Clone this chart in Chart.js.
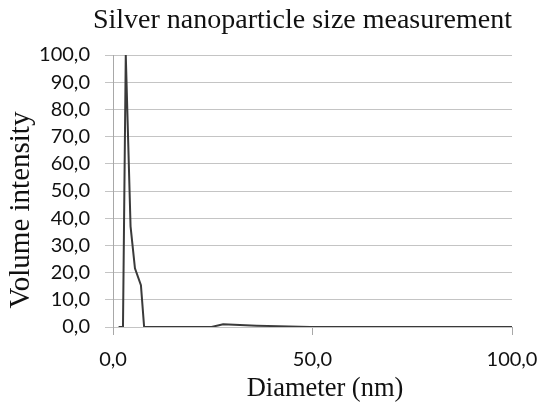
<!DOCTYPE html>
<html>
<head>
<meta charset="utf-8">
<script src="https://cdn.jsdelivr.net/npm/chart.js@4"></script>
<style>
  html, body { margin: 0; padding: 0; background: #fff; }
  #wrap { width: 540px; height: 406px; }
</style>
</head>
<body>
<div id="wrap"><canvas id="sizeChart"></canvas></div>
<script>
// diameter (nm) and volume intensity
var diameters = [1.4, 2.5, 3.2, 4.4, 5.5, 7.0, 7.8, 24.7, 27.6, 36.0, 49.4, 100];
var volumes   = [0,   0,   100, 37,  21.6, 15.4, 0,  0,    1.0,  0.5,  0,    0];

var xTicks = [0, 50, 100];

var points = diameters.map(function (d, i) { return { x: d, y: volumes[i] }; });

function comma(v) { return v.toFixed(1).replace('.', ','); }

// axis titles drawn by hand so they sit where the original has them
var axisTitles = {
  id: 'axisTitles',
  afterDraw: function (c) {
    var g = c.ctx;
    g.save();
    g.fillStyle = '#111';
    g.textAlign = 'center';
    g.textBaseline = 'middle';
    g.font = '26.5px "Liberation Serif"';
    g.fillText('Diameter (nm)', 325, 389);
    g.translate(21, 210);
    g.rotate(-Math.PI / 2);
    g.font = '29px "Liberation Serif"';
    g.fillText('Volume intensity', 0, 0);
    g.restore();
  }
};

var ctx = document.getElementById('sizeChart');
var chart = new Chart(ctx, {
  type: 'scatter',
  data: {
    datasets: [{
      data: points,
      showLine: true,
      borderColor: '#3a3a3a',
      borderWidth: 2,
      pointRadius: 0,
      tension: 0
    }]
  },
  options: {
    responsive: true,
    maintainAspectRatio: false,
    animation: false,
    layout: { padding: { left: 0, right: 28, top: 0, bottom: 0 } },
    plugins: {
      legend: { display: false },
      tooltip: { enabled: false },
      title: {
        display: true,
        text: 'Silver nanoparticle size measurement',
        align: 'end',
        color: '#111',
        font: { family: 'Liberation Serif', size: 28, weight: 'normal' },
        padding: { top: 4, bottom: 17.4 }
      }
    },
    scales: {
      x: {
        type: 'linear',
        min: 0,
        max: 100,
        afterBuildTicks: function (s) { s.ticks = xTicks.map(function (v) { return { value: v }; }); },
        afterFit: function (s) { s.height = 79; s.paddingLeft = 0; s.paddingRight = 0; },
        grid: { drawOnChartArea: false, color: '#a8a8a8', tickLength: 8 },
        border: { display: false },
        ticks: {
          padding: 13,
          maxRotation: 0,
          color: '#111',
          font: { family: 'Lato', size: 20 },
          callback: function (v) { return comma(v); }
        }
      },
      y: {
        min: 0,
        max: 100,
        afterFit: function (s) { s.width = 113; s.paddingTop = 0; s.paddingBottom = 0; },
        grid: { color: '#c4c4c4', tickLength: 8 },
        border: { display: true, color: '#a8a8a8' },
        ticks: {
          stepSize: 10,
          padding: 15,
          color: '#111',
          font: { family: 'Lato', size: 20 },
          callback: function (v) { return comma(v); }
        }
      }
    }
  },
  plugins: [axisTitles]
});
</script>
</body>
</html>
